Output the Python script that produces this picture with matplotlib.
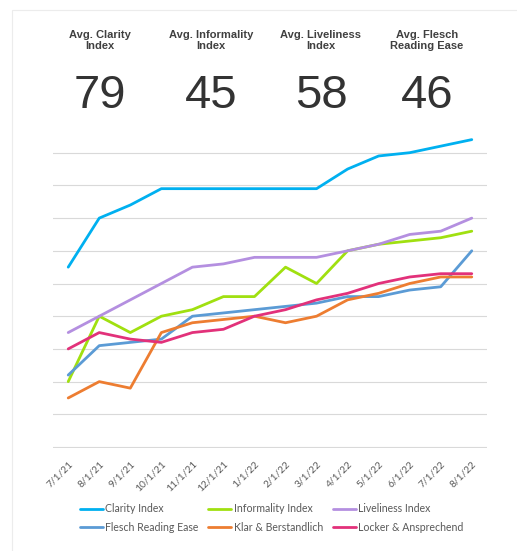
import matplotlib
matplotlib.use("Agg")
import matplotlib.pyplot as plt
from matplotlib.patches import Rectangle
import numpy as np

# ---- data ----
dates = ["7/1/21", "8/1/21", "9/1/21", "10/1/21", "11/1/21", "12/1/21", "1/1/22",
         "2/1/22", "3/1/22", "4/1/22", "5/1/22", "6/1/22", "7/1/22", "8/1/22"]

clarity = [55, 70, 74, 79, 79, 79, 79, 79, 79, 85, 89, 90, 92, 94]
informality = [20, 40, 35, 40, 42, 46, 46, 55, 50, 60, 62, 63, 64, 66]
liveliness = [35, 40, 45, 50, 55, 56, 58, 58, 58, 60, 62, 65, 66, 70]
flesch = [22, 31, 32, 33, 40, 41, 42, 43, 44, 46, 46, 48, 49, 60]
klar = [15, 20, 18, 35, 38, 39, 40, 38, 40, 45, 47, 50, 52, 52]
locker = [30, 35, 33, 32, 35, 36, 40, 42, 45, 47, 50, 52, 53, 53]

kpi_titles = ["Avg. Clarity\nIndex", "Avg. Informality\nIndex",
              "Avg. Liveliness\nIndex", "Avg. Flesch\nReading Ease"]
kpi_values = ["79", "45", "58", "46"]

series = [
    ("Clarity Index", clarity, "#00B0F0"),
    ("Informality Index", informality, "#A0E010"),
    ("Liveliness Index", liveliness, "#B48FE0"),
    ("Flesch Reading Ease", flesch, "#5B9BD5"),
    ("Klar & Berstandlich", klar, "#ED7D31"),
    ("Locker & Ansprechend", locker, "#E2317A"),
]

W, H = 517, 551
fig = plt.figure(figsize=(W / 100, H / 100), dpi=100)
fig.patch.set_facecolor("white")

# faint card border
fig.patches.append(Rectangle((12 / W, -0.1), 1.2, (H - 10) / H + 0.1,
                             transform=fig.transFigure, fill=False,
                             edgecolor="#ececec", lw=0.8))

# KPI header
kpi_x = [100, 211, 321, 427]
for x, t, v in zip(kpi_x, kpi_titles, kpi_values):
    fig.text(x / W, 1 - 40.5 / H, t, ha="center", va="center", fontsize=8,
             fontweight="bold", color="#404040", family="Liberation Sans",
             linespacing=1.1)
    fig.text(x / W, 1 - 96 / H, v, ha="center", va="center", fontsize=34,
             color="#333333", family="Liberation Sans")

# chart
ax = fig.add_axes([52.7 / W, (H - 448) / H, 434.6 / W, 328 / H])
x = np.arange(len(dates))
for name, vals, col in series:
    ax.plot(x, vals, color=col, lw=2, label=name, solid_capstyle="round")

ax.set_xlim(-0.5, len(dates) - 0.5)
ax.set_ylim(-0.3, 100)
for gy in range(0, 100, 10):
    ax.axhline(gy, color="#d9d9d9", lw=0.8, zorder=0)
for s in ax.spines.values():
    s.set_visible(False)
ax.set_yticks([])
ax.set_xticks(x)
ax.set_xticklabels(dates, rotation=45, ha="right", rotation_mode="anchor",
                   fontsize=7.3, color="#595959", family="Lato")
ax.tick_params(axis="x", length=0, pad=8)

# legend: Excel fills rows, matplotlib fills columns -> reorder
h, l = ax.get_legend_handles_labels()
order = [0, 3, 1, 4, 2, 5]
fig.legend([h[i] for i in order], [l[i] for i in order], ncol=3,
           loc="upper left", bbox_to_anchor=(70 / W, 1 - 494 / H),
           frameon=False, labelcolor="#595959",
           handlelength=2.2, handletextpad=0.2, columnspacing=0.95,
           labelspacing=0.7, prop={"family": "Lato", "size": 7.6})

fig.savefig("out.png", dpi=100)
